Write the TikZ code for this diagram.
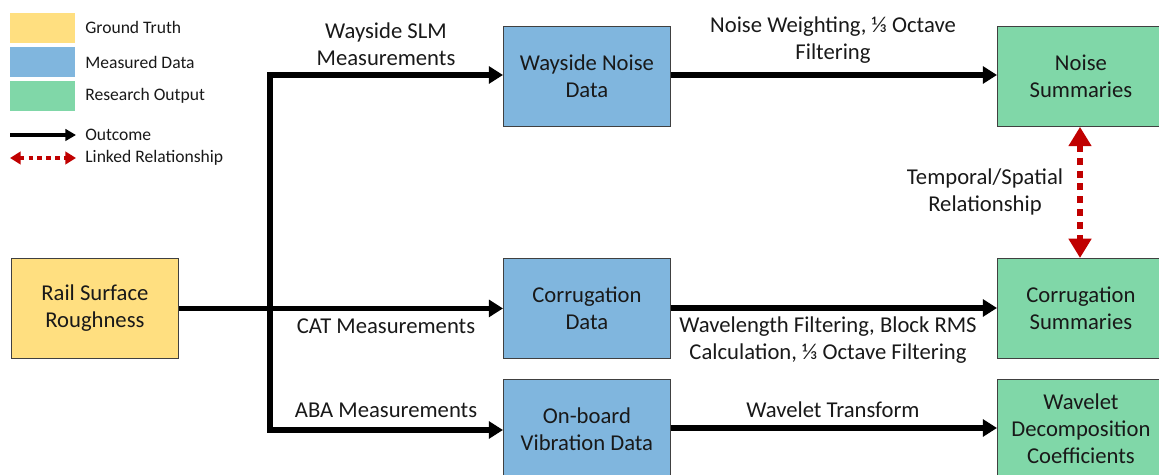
\documentclass[tikz,border=0pt]{standalone}
\usepackage{fontspec}
\setmainfont{Carlito}
\usetikzlibrary{arrows.meta}
\definecolor{gt}{RGB}{255,223,128}
\definecolor{md}{RGB}{128,182,222}
\definecolor{ro}{RGB}{128,215,168}
\definecolor{lr}{RGB}{192,0,0}
\definecolor{tx}{RGB}{25,25,25}
\begin{document}
\begin{tikzpicture}[x=0.02cm,y=-0.02cm,
  box/.style={draw=black!75,line width=0.5pt,anchor=north west,minimum width=3.34cm,minimum height=2cm,align=center,inner sep=0pt,text=tx,font=\fontsize{12.9}{15.3}\selectfont},
  lbl/.style={align=center,text=tx,inner sep=0pt,font=\fontsize{12.9}{15.3}\selectfont},
  leg/.style={anchor=west,text=tx,inner sep=0pt,font=\fontsize{10}{11}\selectfont},
  sw/.style={anchor=north west,minimum width=1.3cm,minimum height=0.6cm,inner sep=0pt},
  outc/.style={line width=3pt,-{Triangle[length=8pt,width=9.5pt]}},
  link/.style={lr,line width=3.4pt,dash pattern=on 4pt off 3.3pt,{Triangle[length=11pt,width=12.5pt]}-{Triangle[length=11pt,width=12.5pt]}},
  legoutc/.style={line width=1.8pt,-{Triangle[length=6pt,width=6.5pt]}},
  leglink/.style={lr,line width=2.4pt,dash pattern=on 2.6pt off 2.4pt,{Triangle[length=6pt,width=7pt]}-{Triangle[length=6pt,width=7pt]}}]
\useasboundingbox (0,0) rectangle (1159,475);
% legend
\node[sw,fill=gt] (s1) at (10,13) {};
\node[sw,fill=md] (s2) at (10,47) {};
\node[sw,fill=ro] (s3) at (10,81) {};
\node[leg] (l1) at (85,27) {Ground Truth};
\node[leg] (l2) at (85,62) {Measured Data};
\node[leg] (l3) at (85,96) {Research Output};
\coordinate (o1) at (10,135); \coordinate (o2) at (76,135);
\draw[legoutc] (o1) -- (o2);
\node[leg] (l4) at (85,135) {Outcome};
\coordinate (k1) at (10,158); \coordinate (k2) at (76,158);
\draw[leglink] (k1) -- (k2);
\node[leg] (l5) at (85,158) {Linked Relationship};
% boxes
\node[box,fill=gt] (rail) at (11,258) {Rail Surface\\Roughness};
\node[box,fill=md] (wnd) at (503,26) {Wayside Noise\\Data};
\node[box,fill=md] (cd) at (503,258) {Corrugation\\Data};
\node[box,fill=md,minimum height=1.98cm] (obv) at (503,379) {On-board\\Vibration Data};
\node[box,fill=ro] (ns) at (997,26) {Noise\\Summaries};
\node[box,fill=ro] (cs) at (997,258) {Corrugation\\Summaries};
\node[box,fill=ro,minimum height=1.98cm] (wdc) at (997,379) {Wavelet\\Decomposition\\Coefficients};
% connectors
\coordinate (j1) at (270,75);
\coordinate (j3) at (270,430);
\draw[outc] (rail.east) -- (cd.west);
\draw[line width=3pt] ([yshift=-1.5pt]j1) -- ([yshift=1.5pt]j3);
\draw[outc] ([xshift=-1.5pt]j1) -- (wnd.west |- j1);
\draw[outc] ([xshift=-1.5pt]j3) -- (obv.west |- j3);
\draw[outc] (wnd.east |- 0,75) -- (ns.west |- 0,75);
\draw[outc] (cd.east |- 0,308) -- (cs.west |- 0,308);
\draw[outc] (obv.east |- 0,428) -- (wdc.west |- 0,428);
\draw[link] (ns.south -| 1080,0) -- (cs.north -| 1080,0);
% labels
\node[lbl] (t1) at (386,44) {Wayside SLM\\Measurements};
\node[lbl] (t2) at (386,326) {CAT Measurements};
\node[lbl] (t3) at (386,410) {ABA Measurements};
\node[lbl] (t4) at (833,40) {Noise Weighting, ⅓ Octave\\Filtering};
\node[lbl] (t5) at (985,192) {Temporal/Spatial\\Relationship};
\node[lbl] (t6) at (828,340) {Wavelength Filtering, Block RMS\\Calculation, ⅓ Octave Filtering};
\node[lbl] (t7) at (833,410) {Wavelet Transform};
\end{tikzpicture}
\end{document}
